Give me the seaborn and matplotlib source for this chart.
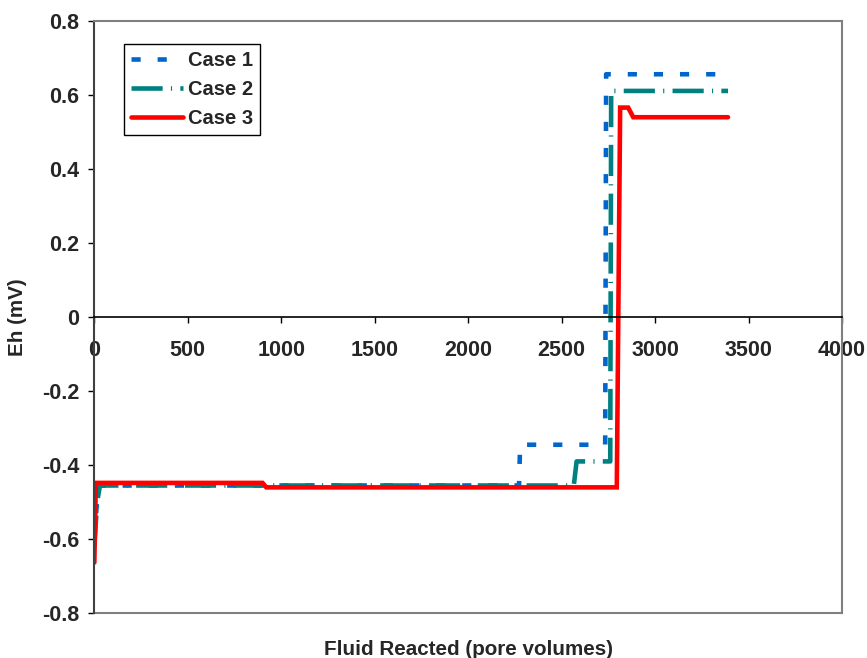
import numpy as np
import pandas as pd
import seaborn as sns
import matplotlib.pyplot as plt

# data (x in pore volumes, y = Eh in mV)
case1_x = [0, 20, 2272, 2278, 2733, 2738, 3390]
case1_y = [-0.60, -0.455, -0.455, -0.345, -0.345, 0.655, 0.655]

case2_x = [0, 15, 30, 2565, 2580, 2760, 2765, 3390]
case2_y = [-0.62, -0.50, -0.455, -0.455, -0.39, -0.39, 0.61, 0.61]

case3_x = [0, 8, 900, 920, 2795, 2813, 2856, 2883, 3390]
case3_y = [-0.663, -0.448, -0.448, -0.46, -0.46, 0.565, 0.565, 0.539, 0.539]

xticks = [0, 500, 1000, 1500, 2000, 2500, 3000, 3500, 4000]
yticks = [-0.8, -0.6, -0.4, -0.2, 0, 0.2, 0.4, 0.6, 0.8]
ytick_labels = ['-0.8', '-0.6', '-0.4', '-0.2', '0', '0.2', '0.4', '0.6', '0.8']

sns.set_style('white')
plt.rcParams['font.family'] = ['Liberation Sans', 'DejaVu Sans']
plt.rcParams['font.weight'] = 'bold'
plt.rcParams['axes.labelweight'] = 'bold'


def main():
    fig = plt.figure(figsize=(8.67, 6.58), dpi=100)
    ax = fig.add_axes([0.1088, 0.0679, 0.8624, 0.9009])

    series = [
        ('Case 1', case1_x, case1_y, '#0066cc', (2.0, 3.7)),
        ('Case 2', case2_x, case2_y, '#008080', (6.8, 1.8, 0.25, 1.8)),
        ('Case 3', case3_x, case3_y, '#ff0000', None),
    ]
    for name, xs, ys, col, dash in series:
        df = pd.DataFrame({'x': xs, 'y': ys})
        sns.lineplot(data=df, x='x', y='y', ax=ax, color=col, lw=3.3,
                     sort=False, estimator=None, label=name, legend=False)
        line = ax.lines[-1]
        if dash is not None:
            line.set_dashes(dash)
        line.set_solid_joinstyle('miter')

    ax.set_xlim(0, 4000)
    ax.set_ylim(-0.8, 0.8)
    ax.set_xticks(xticks)
    ax.set_xticklabels([str(t) for t in xticks])
    ax.set_yticks(yticks)
    ax.set_yticklabels(ytick_labels)

    # axis crosses at zero, grey plot-area frame
    ax.spines['bottom'].set_position(('data', 0))
    ax.spines['bottom'].set_color('black')
    ax.spines['bottom'].set_linewidth(1.2)
    ax.spines['left'].set_color('#404040')
    ax.spines['left'].set_linewidth(1.5)
    for s in ('top', 'right'):
        ax.spines[s].set_color('#808080')
        ax.spines[s].set_linewidth(1.5)
    ax.axhline(-0.8, color='#808080', lw=1.5, clip_on=False)

    ax.tick_params(axis='both', direction='out', length=4.3, width=1,
                   labelsize=15.5, bottom=True, left=True, color='black')
    ax.tick_params(axis='y', pad=6.5)
    ax.tick_params(axis='x', pad=12.5)

    ax.set_xlabel('Fluid Reacted (pore volumes)', fontsize=14.9, va='top')
    ax.xaxis.set_label_coords(0.5, -0.045)
    ax.set_ylabel('Eh (mV)', fontsize=14.9)
    ax.yaxis.set_label_coords(-0.09, 0.5)

    leg = ax.legend(loc='upper left', bbox_to_anchor=(0.0397, 0.960),
                    borderaxespad=0, frameon=True, fancybox=False,
                    edgecolor='black', framealpha=1, handlelength=2.6,
                    handletextpad=0.25, labelspacing=0.5, borderpad=0.33,
                    prop={'size': 14.5, 'weight': 'bold'})
    leg.get_frame().set_linewidth(1.0)

    fig.savefig('out.png', dpi=100)


if __name__ == '__main__':
    main()
